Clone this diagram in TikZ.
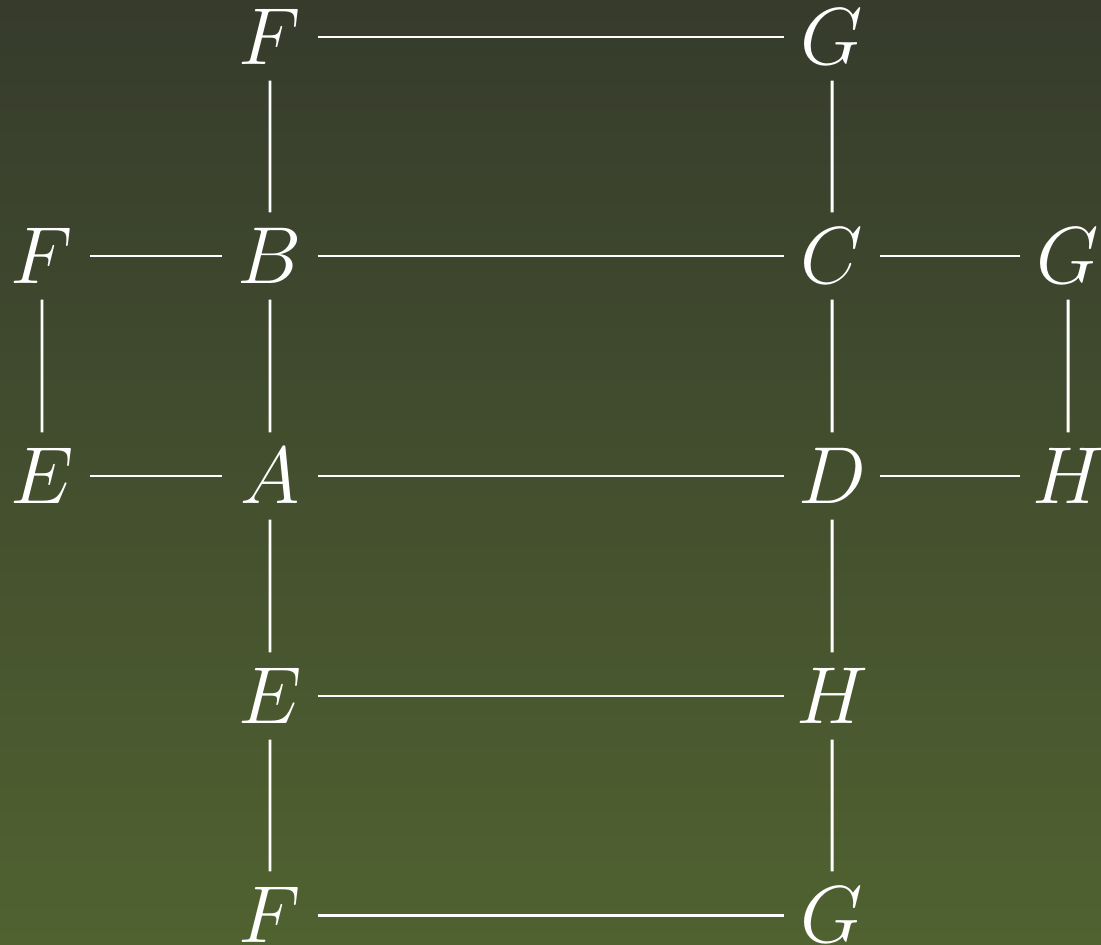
\documentclass[tikz,border=0pt]{standalone}
\usepackage{amsmath}
\usepackage{tikz}
\definecolor{boardtop}{RGB}{54,59,44}
\definecolor{boardbottom}{RGB}{80,98,48}

\begin{document}
\begin{tikzpicture}[x=0.02cm, y=-0.02cm,
            vertex/.style={scale=1.849, transform shape, minimum width=1.017cm, minimum height=0.93cm, inner sep=0pt, text=white, font=\Huge},
            edge/.style={draw, white, line width=1.7pt}
        ]
            % Background
            \shade [top color=boardtop, bottom color=boardbottom] (0,0) rectangle (1101,945);
            \useasboundingbox (0,0) rectangle (1101,945);

            % Row 1
            \node (f1) at (270,37) [vertex] {$F$};
            \node (g1) at (832,37) [vertex] {$G$};
            % Row 2
            \node (f2) at (42,256) [vertex] {$F$};
            \node (b) at (270,256) [vertex] {$B$};
            \node (c) at (832,256) [vertex] {$C$};
            \node (g2) at (1068,256) [vertex] {$G$};
            % Row 3
            \node (e1) at (42,476) [vertex] {$E$};
            \node (a) at (270,476) [vertex] {$A$};
            \node (d) at (832,476) [vertex] {$D$};
            \node (h1) at (1068,476) [vertex] {$H$};
            % Row 4
            \node (e2) at (270,696) [vertex] {$E$};
            \node (h2) at (832,696) [vertex] {$H$};
            % Row 5
            \node (f3) at (270,915) [vertex] {$F$};
            \node (g3) at (832,915) [vertex] {$G$};

            % Horizontal edges
            \draw [edge] (f1) -- (g1);
            \draw [edge] (f2) -- (b);
            \draw [edge] (b) -- (c);
            \draw [edge] (c) -- (g2);
            \draw [edge] (e1) -- (a);
            \draw [edge] (a) -- (d);
            \draw [edge] (d) -- (h1);
            \draw [edge] (e2) -- (h2);
            \draw [edge] (f3) -- (g3);

            % Vertical edges
            \draw [edge] (f1) -- (b);
            \draw [edge] (g1) -- (c);
            \draw [edge] (f2) -- (e1);
            \draw [edge] (b) -- (a);
            \draw [edge] (c) -- (d);
            \draw [edge] (g2) -- (h1);
            \draw [edge] (a) -- (e2);
            \draw [edge] (d) -- (h2);
            \draw [edge] (e2) -- (f3);
            \draw [edge] (h2) -- (g3);
        \end{tikzpicture}
\end{document}
